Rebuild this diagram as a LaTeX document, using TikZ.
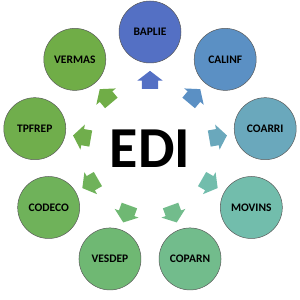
\documentclass[tikz,border=0pt]{standalone}
\usepackage{fontspec}
\setmainfont{Carlito}
\usetikzlibrary{shapes.arrows}
\definecolor{edibaplie}{HTML}{5470C4}
\definecolor{edicalinf}{HTML}{5B90C4}
\definecolor{edicoarri}{HTML}{6AA8BC}
\definecolor{edimovins}{HTML}{72BDAC}
\definecolor{edicoparn}{HTML}{72BC8C}
\definecolor{edivesdep}{HTML}{6FB873}
\definecolor{edicodeco}{HTML}{6FB25A}
\definecolor{editpfrep}{HTML}{70AE4C}
\definecolor{edivermas}{HTML}{70AD47}

\begin{document}
\begin{tikzpicture}[x=1pt, y=1pt,
  station/.style={circle, draw=black!65, line width=0.5pt, minimum size=62pt,
    inner sep=0pt, font=\bfseries\fontsize{11.5}{12}\selectfont},
  flowarrow/.style={single arrow, draw=none, inner xsep=0pt, inner ysep=8pt,
    minimum height=18pt, single arrow head extend=4.5pt, single arrow tip angle=105}]
  \useasboundingbox (0,0) rectangle (300,300);
  \node[font=\bfseries\fontsize{58}{60}\selectfont] (edi) at (150,151) {EDI};
  % une fleche vers chaque message, dans le sens horaire
  \foreach \name/\ang/\col in {BAPLIE/90/edibaplie, CALINF/50/edicalinf,
      COARRI/10/edicoarri, MOVINS/-30/edimovins, COPARN/-70/edicoparn,
      VESDEP/-110/edivesdep, CODECO/-150/edicodeco, TPFREP/170/editpfrep,
      VERMAS/130/edivermas} {
    \node[flowarrow, fill=\col, rotate=\ang] (arr-\name) at ([shift={(\ang:66)}]edi.center) {};
    \node[station, fill=\col] (\name) at ([shift={(\ang:117)}]edi.center) {\name};
  }
\end{tikzpicture}
\end{document}
